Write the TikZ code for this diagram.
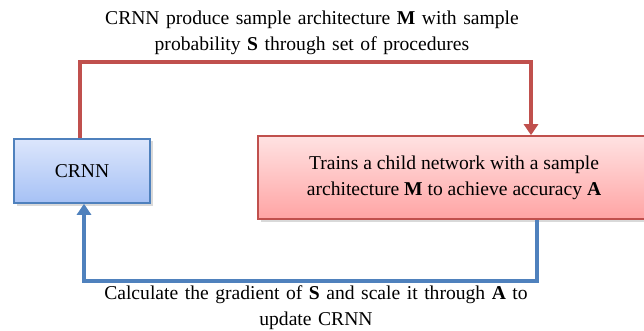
\documentclass[tikz,border=0pt]{standalone}
\usepackage{fontspec}
\setmainfont{Liberation Serif}
\usetikzlibrary{positioning, arrows.meta, shadows}

\definecolor{boxblue}{HTML}{4F81BD}
\definecolor{boxred}{HTML}{C0504D}
\definecolor{bluetop}{HTML}{DCE6FC}
\definecolor{bluebot}{HTML}{A6C1F5}
\definecolor{redtop}{HTML}{FFE2E2}
\definecolor{redbot}{HTML}{FFA4A4}

\begin{document}
\begin{tikzpicture}[x=1pt, y=-1pt,
		every node/.style={font=\fontsize{19.6}{26}\selectfont},
		bluebox/.style={draw=boxblue, line width=1.6pt, top color=bluetop, bottom color=bluebot, drop shadow={opacity=0.3, shadow xshift=2.5pt, shadow yshift=-2.5pt}},
		redbox/.style={draw=boxred, line width=1.6pt, top color=redtop, bottom color=redbot, drop shadow={opacity=0.3, shadow xshift=2.5pt, shadow yshift=-2.5pt}},
		redline/.style={draw=boxred, line width=4pt, -{Triangle[length=11pt, width=14pt]}},
		blueline/.style={draw=boxblue, line width=4pt, -{Triangle[length=11pt, width=14pt]}},
		caption/.style={align=center, text width=540pt}]
		\useasboundingbox (0,0) rectangle (644,331);

		\node[bluebox, minimum width=136pt, minimum height=64pt] (crnn) at (82,171) {CRNN};
		\node[redbox, minimum width=392pt, minimum height=83pt, align=center] (train) at (454,177.5)
			{Trains a child network with a sample\\ architecture \textbf{M} to achieve accuracy \textbf{A}};

		\node[caption] (top) at (312,33)
			{CRNN produce sample architecture \textbf{M} with sample\\ probability \textbf{S} through set of procedures};
		\node[caption] (bottom) at (316,308)
			{Calculate the gradient of \textbf{S} and scale it through \textbf{A} to\\ update CRNN};

		% corners of the two loops
		\coordinate (up) at (80,62);
		\coordinate (down) at (537,281);

		\draw[redline] (crnn.north -| up) |- (up -| 531,0) -- (train.north -| 531,0);
		\draw[blueline] (train.south -| down) |- (down -| 84,0) -- (crnn.south -| 84,0);
\end{tikzpicture}
\end{document}
